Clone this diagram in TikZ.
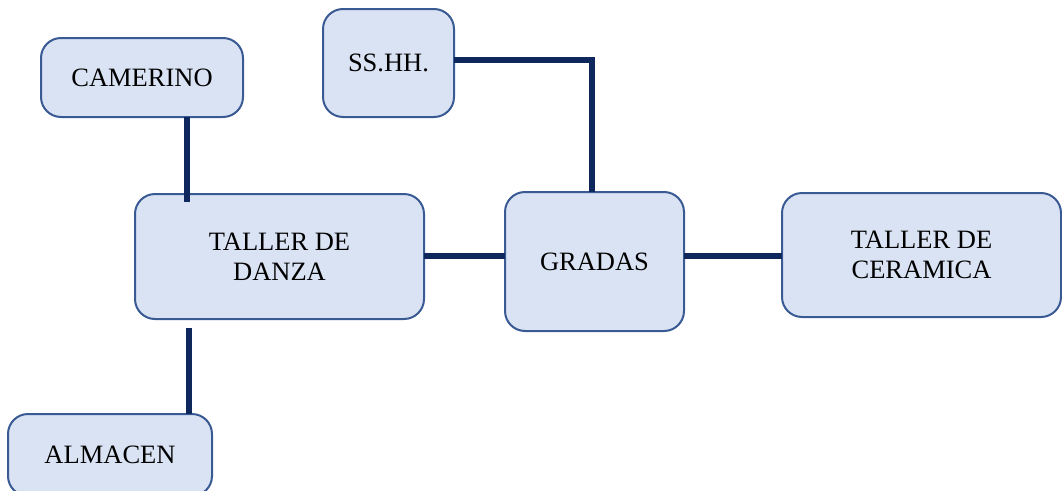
\documentclass[tikz,border=0pt]{standalone}
\usepackage{fontspec}
\setmainfont{Liberation Serif}
\definecolor{boxfill}{HTML}{DAE3F3}
\definecolor{boxline}{HTML}{3A5A94}
\definecolor{linknavy}{HTML}{0E275C}
\begin{document}
\begin{tikzpicture}[x=1pt,y=-1pt,
  room/.style={draw=boxline, fill=boxfill, line width=2pt, rounded corners=20pt,
    rectangle, align=center, inner sep=0pt, outer sep=0pt,
    font=\fontsize{26.5}{30}\selectfont},
  link/.style={draw=linknavy, line width=6pt, line join=miter}]
\useasboundingbox (0,0) rectangle (1062,490);
\begin{scope}
\clip (0,0) rectangle (1062,490);
\node[room, minimum width=202pt, minimum height=79pt] (cam) at (142,77.5) {CAMERINO};
\node[room, minimum width=131pt, minimum height=108pt] (ss) at (388.5,63) {SS.HH.};
\node[room, minimum width=289pt, minimum height=125pt] (danza) at (279.5,256.5) {TALLER DE\\DANZA};
\node[room, minimum width=179pt, minimum height=139pt] (gradas) at (594.5,261.5) {GRADAS};
\node[room, minimum width=279pt, minimum height=124pt] (ceram) at (921.5,255) {TALLER DE\\CERAMICA};
\node[room, minimum width=204pt, minimum height=82pt] (alm) at (110,455) {ALMACEN};
\end{scope}
\coordinate (c1) at (187,202);
\coordinate (c2) at (189,328);
\coordinate (c3) at (592,60);
\coordinate (c4) at (0,256);
\draw[link] (cam.south -| c1) -- (c1);
\draw[link] (c2) -- (c2 |- alm.north);
\draw[link] (danza.east |- c4) -- (gradas.west |- c4);
\draw[link] (gradas.east |- c4) -- (ceram.west |- c4);
\draw[link] (ss.east |- c3) -- (c3) -- (c3 |- gradas.north);
\end{tikzpicture}
\end{document}
